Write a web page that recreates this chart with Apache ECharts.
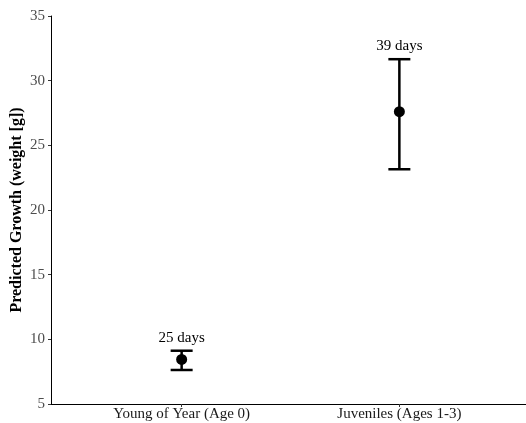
<!DOCTYPE html>
<html>
<head>
<meta charset="utf-8">
<script src="https://cdn.jsdelivr.net/npm/echarts@6/dist/echarts.min.js"></script>
<style>html,body{margin:0;padding:0;background:#fff;}#c{width:526px;height:423px;}</style>
</head>
<body>
<div id="c"></div>
<script>
var categories = ['Young of Year (Age 0)', 'Juveniles (Ages 1-3)'];
var means = [8.45, 27.6];
var lower = [7.63, 23.15];
var upper = [9.12, 31.66];
var dayLabels = ['25 days', '39 days'];
var yTicks = [5, 10, 15, 20, 25, 30, 35];

var positions = categories.map(function (c, i) { return i + 1; });
var errData = positions.map(function (p, i) { return [p, lower[i], upper[i], i]; });
var ptData = positions.map(function (p, i) { return [p, means[i]]; });

var chart = echarts.init(document.getElementById('c'));
chart.setOption({
  animation: false,
  backgroundColor: '#fff',
  textStyle: { fontFamily: 'Liberation Serif' },
  grid: { left: 51, right: -4, top: 16, bottom: 19, containLabel: false, outerBoundsMode: 'none' },
  xAxis: {
    type: 'value', min: 0.4, max: 2.6,
    axisLine: { lineStyle: { color: '#000', width: 1 } },
    axisTick: { show: true, customValues: positions, length: 3, lineStyle: { color: '#333' } },
    axisLabel: {
      customValues: positions, color: '#1a1a1a', fontSize: 15, margin: 3,
      fontFamily: 'Liberation Serif',
      formatter: function (v) { return categories[Math.round(v) - 1] || ''; }
    },
    splitLine: { show: false }
  },
  yAxis: {
    type: 'value', min: 5, max: 35, interval: 5,
    name: 'Predicted Growth (weight [g])', nameLocation: 'middle', nameGap: 26,
    nameMoveOverlap: false,
    nameTextStyle: { fontFamily: 'Liberation Serif', fontWeight: 'bold', fontSize: 16, color: '#000' },
    axisLine: { show: true, lineStyle: { color: '#000', width: 1 } },
    axisTick: { show: true, length: 3, lineStyle: { color: '#333' } },
    axisLabel: { color: '#4d4d4d', fontSize: 15, margin: 6, fontFamily: 'Liberation Serif',
      customValues: yTicks },
    splitLine: { show: false }
  },
  series: [
    {
      type: 'custom',
      data: errData,
      renderItem: function (params, api) {
        var x = api.value(0);
        var lo = api.coord([x, api.value(1)]);
        var hi = api.coord([x, api.value(2)]);
        var idx = api.value(3);
        var hw = 11;
        var st = { stroke: '#000', lineWidth: 2.5 };
        return {
          type: 'group',
          children: [
            { type: 'line', shape: { x1: lo[0], y1: lo[1], x2: hi[0], y2: hi[1] }, style: st },
            { type: 'line', shape: { x1: lo[0] - hw, y1: lo[1], x2: lo[0] + hw, y2: lo[1] }, style: st },
            { type: 'line', shape: { x1: hi[0] - hw, y1: hi[1], x2: hi[0] + hw, y2: hi[1] }, style: st },
            { type: 'text', x: hi[0], y: hi[1] - 13,
              style: { text: dayLabels[idx], fill: '#000', fontSize: 15, fontFamily: 'Liberation Serif',
                align: 'center', verticalAlign: 'middle' } }
          ]
        };
      },
      z: 2
    },
    {
      type: 'scatter',
      data: ptData,
      symbol: 'circle',
      symbolSize: 11,
      itemStyle: { color: '#000', opacity: 1 },
      z: 3
    }
  ]
});
</script>
</body>
</html>
